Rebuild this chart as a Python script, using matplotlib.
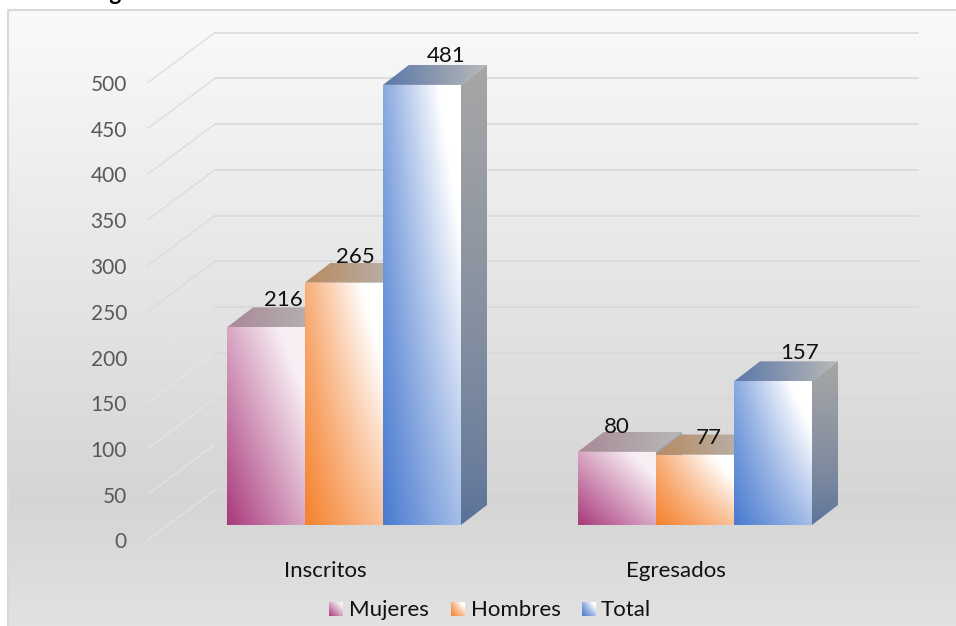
import matplotlib
matplotlib.use("Agg")
import matplotlib.pyplot as plt
import numpy as np
from matplotlib.patches import Polygon, Rectangle

plt.rcParams['font.family'] = ['Lato', 'DejaVu Sans']

# values
categories = ["Inscritos", "Egresados"]
series_names = ["Mujeres", "Hombres", "Total"]
mujeres = [216, 80]
hombres = [265, 77]
total = [481, 157]
ticks = [0, 50, 100, 150, 200, 250, 300, 350, 400, 450, 500]

base_colors = ["#a93a7c", "#f5822f", "#4a7bd0"]
top_left_colors = ["#a98a98", "#b98a60", "#5b78a8"]
side_bottom_colors = ["#8a5a78", "#a07850", "#5a7299"]
top_left_mix = [0.55, 0.35, 0.35]
right_mix = [0.55, 0.5, 0.5]
cross_mix = [0.0, 0.4, 0.4]
max_mix = [0.92, 1.0, 1.0]

# everything is laid out in pixels across, value units upwards
W, H = 956, 626
PX_PER_UNIT = 0.915
BASE_PX = 525
GROUP_LEFT = [227, 578]
BAR_W = 78
DEPTH_X = 26
DEPTH_Y = 20 / PX_PER_UNIT


def to_rgb(c):
    return np.array(matplotlib.colors.to_rgb(c))


def fill_clipped(ax, verts, rgb, zorder):
    xs = [v[0] for v in verts]
    ys = [v[1] for v in verts]
    extent = [min(xs), max(xs), min(ys), max(ys)]
    im = ax.imshow(rgb, extent=extent, origin="lower", aspect="auto",
                   interpolation="bilinear", zorder=zorder)
    clip = Polygon(verts, closed=True, transform=ax.transData, fc="none", ec="none")
    ax.add_patch(clip)
    im.set_clip_path(clip)


def front_ramp(i, n=60):
    # dark in the lower left corner, white towards the upper right
    u, v = np.meshgrid(np.linspace(0, 1, n), np.linspace(0, 1, n))
    s = np.clip(right_mix[i] * u + top_left_mix[i] * v + cross_mix[i] * u * v, 0, max_mix[i])
    return to_rgb(base_colors[i])[None, None, :] * (1 - s[..., None]) + s[..., None]


def h_ramp(c0, c1, n=40):
    t = np.linspace(0, 1, n)[None, :, None]
    return to_rgb(c0)[None, None, :] * (1 - t) + to_rgb(c1)[None, None, :] * t


def v_ramp(c_bottom, c_top, n=40):
    t = np.linspace(0, 1, n)[:, None, None] ** 0.7
    return to_rgb(c_bottom)[None, None, :] * (1 - t) + to_rgb(c_top)[None, None, :] * t


def draw_bar(ax, x, value, i):
    x2 = x + BAR_W
    # top face
    top = [(x, value), (x2, value), (x2 + DEPTH_X, value + DEPTH_Y), (x + DEPTH_X, value + DEPTH_Y)]
    fill_clipped(ax, top, h_ramp(top_left_colors[i], "#b8b8b8"), 3)
    # front face
    front = [(x, 0), (x2, 0), (x2, value), (x, value)]
    fill_clipped(ax, front, front_ramp(i), 3)
    # side face
    side = [(x2, 0), (x2 + DEPTH_X, DEPTH_Y), (x2 + DEPTH_X, value + DEPTH_Y), (x2, value)]
    fill_clipped(ax, side, v_ramp(side_bottom_colors[i], "#a6a6a6"), 3)


def main():
    fig = plt.figure(figsize=(W / 100, H / 100), dpi=100, facecolor="white")
    ax = fig.add_axes([0, 0, 1, 1])
    ax.axis("off")

    y_bottom = (BASE_PX - H) / PX_PER_UNIT
    y_top = BASE_PX / PX_PER_UNIT
    px = lambda p: (BASE_PX - p) / PX_PER_UNIT  # pixel row to value units

    # chart area background
    rows = np.linspace(10, H, 300)
    shade = np.interp(rows, [10, 500, 626], [0.98, 0.835, 0.885])
    bg = np.repeat(shade[:, None, None], 3, axis=2)
    ax.imshow(bg[::-1], extent=[8, W, y_bottom, px(10)], origin="lower", aspect="auto",
              interpolation="bilinear", zorder=0)
    ax.add_patch(Rectangle((8, y_bottom - 10), W, px(10) - y_bottom + 10, fc="none",
                           ec="#d9d9d9", lw=1.5, zorder=1))

    # heading above the chart, cut by the top edge as in the source
    ax.text(72, px(0.5), "Imagen 10. Resultados de Escolaridad Nivel Secundaria", fontsize=16.5,
            fontweight="bold", color="black", va="baseline", ha="left", zorder=0.5)

    # gridlines: along the side wall and the back wall
    offset = px(540)
    back = 50 / PX_PER_UNIT
    tick_nudge = 2.5 / PX_PER_UNIT
    for t in ticks:
        c = "#d9d9d9" if t >= 250 else "#e6e6e6"
        ax.plot([148, 215], [t + offset, t + offset + back], color=c, lw=0.8, zorder=2)
        ax.plot([215, 918], [t + offset + back] * 2, color="#d9d9d9" if t > 0 else "#dadada",
                lw=1.2, zorder=2)
        ax.text(127, t + offset - tick_nudge, str(t), ha="right", va="center", fontsize=15,
                color="#595959", zorder=5)

    # bars, left to right so later fronts cover earlier side faces
    values = [mujeres, hombres, total]
    label_at = [[(283, 300), (355, 257), (446, 56)], [(617, 427), (709, 438), (800, 353)]]
    for g, left in enumerate(GROUP_LEFT):
        for i in range(3):
            draw_bar(ax, left + i * BAR_W, values[i][g], i)
            lx, ly = label_at[g][i]
            ax.text(lx, px(ly), str(values[i][g]), ha="center", va="center", fontsize=16,
                    color="#111111", zorder=6)

    ax.text(325, px(571), categories[0], ha="center", va="center", fontsize=16, color="#111111")
    ax.text(676, px(571), categories[1], ha="center", va="center", fontsize=16, color="#111111")

    # legend
    swatch_x = [329, 451, 582]
    text_x = [349, 471, 601]
    for i, name in enumerate(series_names):
        x0 = swatch_x[i]
        ax.imshow(front_ramp(i), extent=[x0, x0 + 14, px(616), px(602)],
                  origin="lower", aspect="auto", interpolation="bilinear", zorder=5)
        ax.text(text_x[i], px(610), name, ha="left", va="center", fontsize=16, color="#111111")

    ax.set_xlim(0, W)
    ax.set_ylim(y_bottom, y_top)
    fig.savefig("out.png", dpi=100)
    plt.close(fig)


if __name__ == "__main__":
    main()
